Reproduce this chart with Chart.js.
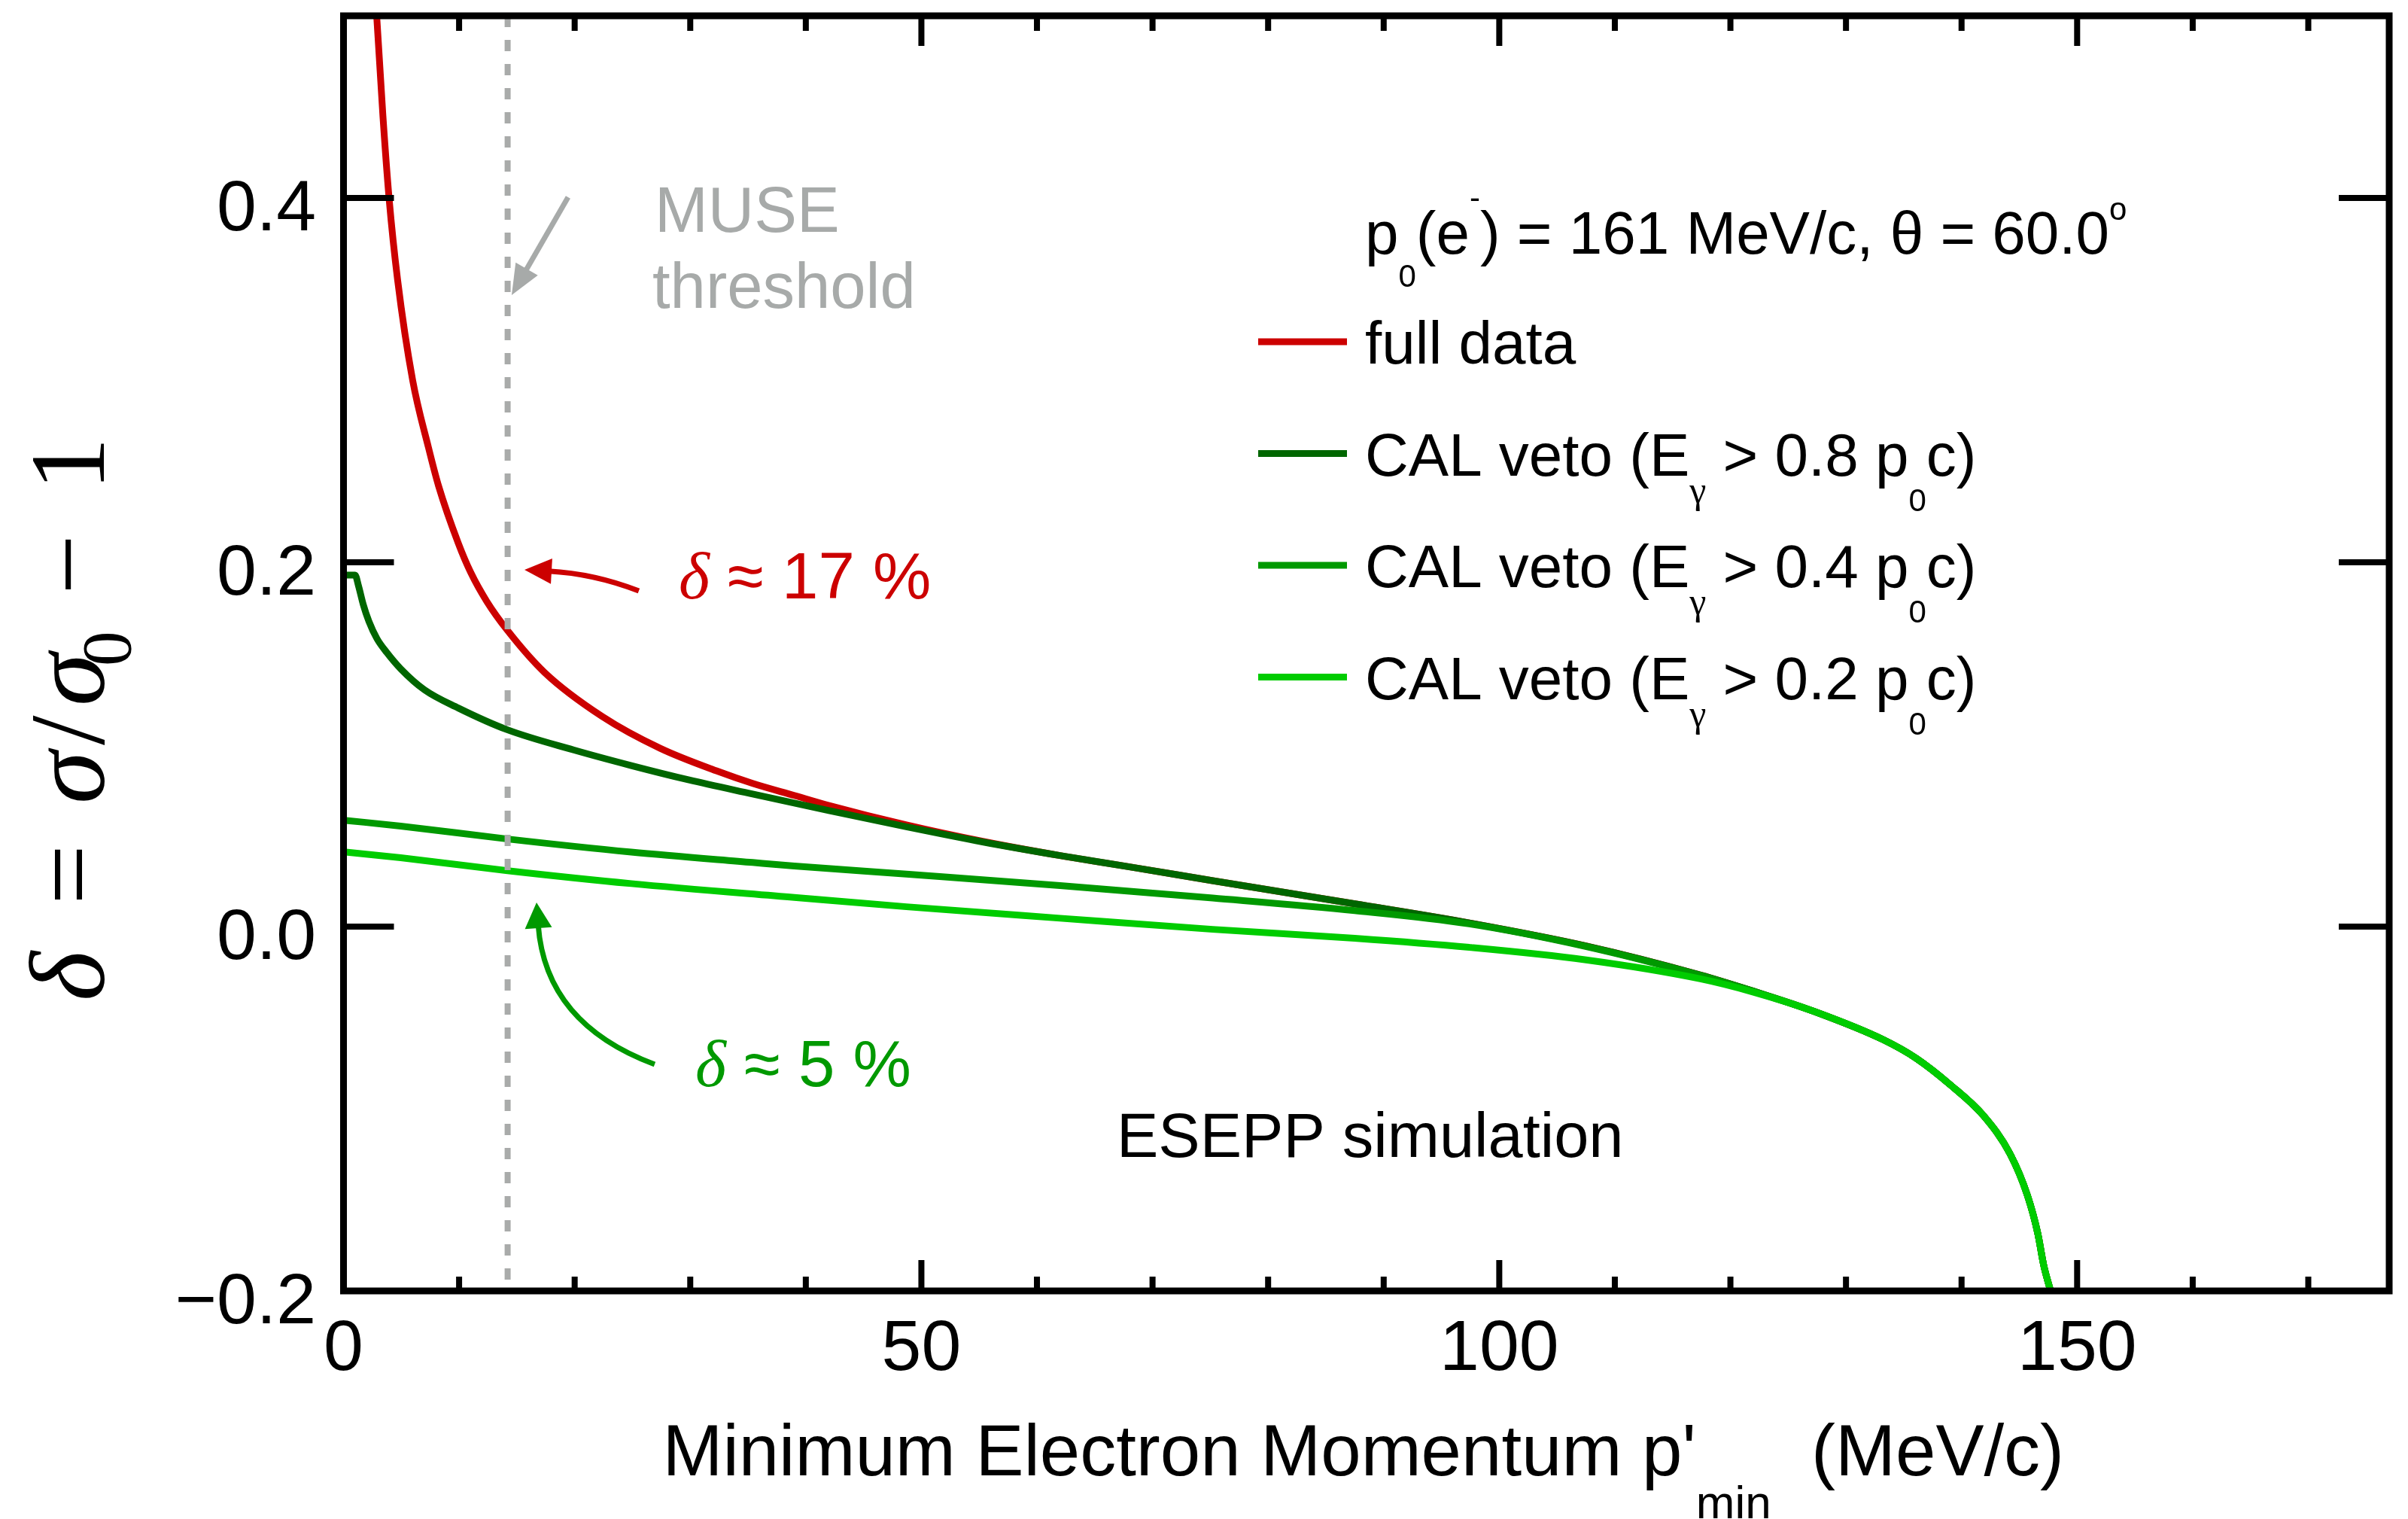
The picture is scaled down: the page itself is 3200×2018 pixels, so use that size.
<!DOCTYPE html>
<html>
<head>
<meta charset="utf-8">
<title>ESEPP simulation - delta vs minimum electron momentum</title>
<script src="https://cdn.jsdelivr.net/npm/chart.js@4.4.1/dist/chart.umd.min.js"></script>
<style>
  html, body { margin: 0; padding: 0; background: #fff; }
  #wrap { width: 3200px; height: 2018px; }
</style>
</head>
<body>
<div id="wrap"><canvas id="chart" width="3200" height="2018"></canvas></div>
<script>
// Fonts
const SANS = '"Liberation Sans", Arial, Helvetica, sans-serif';
const SERIF = '"Liberation Serif", "Times New Roman", serif';

// Series: minimum electron momentum p'_min (MeV/c) and delta = sigma/sigma0 - 1
const fullDataX = [2.5, 2.87, 3.41, 3.94, 4.68, 5.98, 7.35, 8.22, 9.93, 11, 12.4, 14.2, 17.4, 22.4, 27.4, 32.4, 35.4, 39, 42, 48.7, 55.3, 62, 68.6, 75.2, 81.9, 87.5, 97.4, 107.4, 117.4, 122, 127.3, 133.2, 136.1, 139, 141.9, 144.2, 145.7, 146.6, 147.1, 147.7];
const fullDataY = [0.545, 0.5, 0.445, 0.4, 0.355, 0.3, 0.263, 0.242, 0.2105, 0.1945, 0.1785, 0.1625, 0.1395, 0.1153, 0.0979, 0.0852, 0.0786, 0.072, 0.0665, 0.0558, 0.0468, 0.039, 0.0322, 0.0252, 0.0183, 0.0125, 0.002, -0.0105, -0.0266, -0.0355, -0.0467, -0.062, -0.0724, -0.0867, -0.1038, -0.1248, -0.1476, -0.1686, -0.1857, -0.2];

const veto08X = [0.2, 1.0, 1.3, 1.7, 2.2, 2.9, 3.74, 4.95, 7, 9.93, 14.2, 19.9, 24.9, 29.9, 35.4, 42, 48.7, 55.3, 62, 68.6, 75.2, 81.9, 87.5, 97.4, 107.4, 117.4, 122, 127.3, 133.2, 136.1, 139, 141.9, 144.2, 145.7, 146.6, 147.1, 147.7];
const veto08Y = [0.193, 0.193, 0.187, 0.177, 0.1675, 0.158, 0.1505, 0.1415, 0.13, 0.12, 0.108, 0.097, 0.0884, 0.0805, 0.0728, 0.0637, 0.0548, 0.0465, 0.039, 0.0322, 0.0252, 0.0183, 0.0125, 0.002, -0.0105, -0.0266, -0.0355, -0.0467, -0.062, -0.0724, -0.0867, -0.1038, -0.1248, -0.1476, -0.1686, -0.1857, -0.2];

const veto04X = [0.2, 4.95, 14.2, 24.9, 35.4, 39, 48.7, 62, 75.2, 87.5, 97.4, 107.4, 117.4, 122, 127.3, 133.2, 136.1, 139, 141.9, 144.2, 145.7, 146.6, 147.1, 147.7];
const veto04Y = [0.0583, 0.0552, 0.0481, 0.0409, 0.0352, 0.0333, 0.0288, 0.0225, 0.0157, 0.0088, 0.0015, -0.0108, -0.0268, -0.0355, -0.0467, -0.062, -0.0724, -0.0867, -0.1038, -0.1248, -0.1476, -0.1686, -0.1857, -0.2];

const veto02X = [0.2, 4.95, 14.2, 24.9, 39, 48.7, 62, 75.2, 87.5, 97.4, 107.4, 117.4, 122, 127.3, 133.2, 136.1, 139, 141.9, 144.2, 145.7, 146.6, 147.1, 147.7];
const veto02Y = [0.0409, 0.0378, 0.0307, 0.0236, 0.016, 0.0109, 0.0046, -0.0015, -0.0064, -0.0114, -0.0182, -0.0287, -0.036, -0.0467, -0.062, -0.0724, -0.0867, -0.1038, -0.1248, -0.1476, -0.1686, -0.1857, -0.2];

const MUSE_THRESHOLD = 14.2; // MeV/c

// Axes
const X_MIN = 0, X_MAX = 177;
const Y_MIN = -0.2, Y_MAX = 0.5;
const X_MAJOR_TICKS = [0, 50, 100, 150];
const X_TICK_LABELS = ["0", "50", "100", "150"];
const X_MINOR_TICKS = [10, 20, 30, 40, 60, 70, 80, 90, 110, 120, 130, 140, 160, 170];
const Y_TICKS = [0.4, 0.2, 0.0, -0.2];
const Y_TICK_LABELS = ["0.4", "0.2", "0.0", "\u22120.2"];

const SERIES_COLORS = {
  full: "#cc0000",
  veto08: "#006600",
  veto04: "#009900",
  veto02: "#00cc00",
};

function toPoints(xs, ys) {
  return xs.map((x, i) => ({ x: x, y: ys[i] }));
}

// draw a run of text pieces [text, font, dy]
function drawRich(ctx, x, y, parts) {
  let cx = x;
  parts.forEach(([text, font, dy]) => {
    ctx.font = font;
    ctx.fillText(text, cx, y + (dy || 0));
    cx += ctx.measureText(text).width;
  });
  return cx;
}

function richWidth(ctx, parts) {
  let w = 0;
  parts.forEach(([text, font]) => {
    ctx.font = font;
    w += ctx.measureText(text).width;
  });
  return w;
}

// arrow along a quadratic curve, pixel points
function drawArrow(ctx, tail, ctrl, tip, color, width, headLen, headHalf) {
  const dx = tip[0] - ctrl[0], dy = tip[1] - ctrl[1];
  const len = Math.hypot(dx, dy);
  const ux = dx / len, uy = dy / len;
  const bx = tip[0] - ux * headLen, by = tip[1] - uy * headLen;
  ctx.strokeStyle = color;
  ctx.fillStyle = color;
  ctx.lineWidth = width;
  ctx.lineCap = "butt";
  ctx.beginPath();
  ctx.moveTo(tail[0], tail[1]);
  ctx.quadraticCurveTo(ctrl[0], ctrl[1], bx + ux * 4, by + uy * 4);
  ctx.stroke();
  ctx.beginPath();
  ctx.moveTo(tip[0], tip[1]);
  ctx.lineTo(bx - uy * headHalf, by + ux * headHalf);
  ctx.lineTo(bx + uy * headHalf, by - ux * headHalf);
  ctx.closePath();
  ctx.fill();
}

const framePlugin = {
  id: "frameAndText",
  afterDatasetsDraw(chart) {
    const { ctx, chartArea: a } = chart;
    const xs = chart.scales.x, ys = chart.scales.y;
    const px = (v) => xs.getPixelForValue(v);
    const py = (v) => ys.getPixelForValue(v);

    ctx.save();

    // MUSE threshold arrow + text
    drawArrow(ctx, [px(19.43), py(0.4004)], [px(17.0), py(0.3736)], [px(14.55), py(0.3467)], "#a7aaa9", 7, 40, 17);
    ctx.fillStyle = "#a7aaa9";
    ctx.textAlign = "left";
    ctx.textBaseline = "alphabetic";
    ctx.font = `85px ${SANS}`;
    ctx.fillText("MUSE", 870, 308);
    ctx.fillText("threshold", 867, 409);

    // delta ~ 17 %
    drawArrow(ctx, [px(25.55), py(0.1843)], [px(21.71), py(0.1938)], [px(15.66), py(0.1959)], SERIES_COLORS.full, 7, 36, 17);
    ctx.fillStyle = SERIES_COLORS.full;
    drawRich(ctx, 902, 795, [
      ["\u03b4", `italic 88px ${SERIF}`],
      [" \u2248 17 %", `87px ${SANS}`],
    ]);

    // delta ~ 5 %
    drawArrow(ctx, [px(26.92), py(-0.0756)], [px(17.48), py(-0.0533)], [px(16.7), py(0.0132)], SERIES_COLORS.veto04, 7, 34, 18);
    ctx.fillStyle = SERIES_COLORS.veto04;
    drawRich(ctx, 924, 1443, [
      ["\u03b4", `italic 88px ${SERIF}`],
      [" \u2248 5 %", `87px ${SANS}`],
    ]);

    ctx.fillStyle = "#000";
    ctx.font = `83px ${SANS}`;
    ctx.fillText("ESEPP simulation", 1484, 1537);

    // legend
    const LEG = `80px ${SANS}`;
    const SUB = `42px ${SANS}`;
    drawRich(ctx, 1814, 337, [
      ["p", LEG], ["0", SUB, 44], ["(e", LEG], ["-", SUB, -60],
      [") = 161 MeV/c, \u03b8 = 60.0", LEG], ["o", SUB, -45],
    ]);
    const rows = [
      { color: SERIES_COLORS.full, parts: [["full data", LEG]] },
      { color: SERIES_COLORS.veto08, cut: "0.8" },
      { color: SERIES_COLORS.veto04, cut: "0.4" },
      { color: SERIES_COLORS.veto02, cut: "0.2" },
    ];
    rows.forEach((r, i) => {
      const lineY = 454 + i * 148.5;
      ctx.strokeStyle = r.color;
      ctx.lineWidth = 9;
      ctx.lineCap = "butt";
      ctx.beginPath();
      ctx.moveTo(1672, lineY);
      ctx.lineTo(1790, lineY);
      ctx.stroke();
      ctx.fillStyle = "#000";
      const parts = r.parts || [
        ["CAL veto (E", LEG], ["\u03b3", `50px ${SERIF}`, 36],
        [` > ${r.cut} p`, LEG], ["0", SUB, 47], ["c)", LEG],
      ];
      drawRich(ctx, 1814, lineY + 29, parts);
    });

    // frame
    ctx.strokeStyle = "#000";
    ctx.lineWidth = 9;
    ctx.lineCap = "butt";
    ctx.strokeRect(a.left, a.top, a.right - a.left, a.bottom - a.top);

    // ticks, pointing inward
    ctx.lineWidth = 8;
    ctx.beginPath();
    X_MAJOR_TICKS.forEach((v) => {
      const x = px(v);
      ctx.moveTo(x, a.bottom); ctx.lineTo(x, a.bottom - 41);
      ctx.moveTo(x, a.top); ctx.lineTo(x, a.top + 40);
    });
    X_MINOR_TICKS.forEach((v) => {
      const x = px(v);
      ctx.moveTo(x, a.bottom); ctx.lineTo(x, a.bottom - 19);
      ctx.moveTo(x, a.top); ctx.lineTo(x, a.top + 20);
    });
    Y_TICKS.forEach((v) => {
      const y = py(v);
      ctx.moveTo(a.left, y); ctx.lineTo(a.left + 67, y);
      ctx.moveTo(a.right, y); ctx.lineTo(a.right - 67, y);
    });
    ctx.stroke();

    // tick labels
    ctx.fillStyle = "#000";
    ctx.font = `95px ${SANS}`;
    ctx.textAlign = "center";
    X_MAJOR_TICKS.forEach((v, i) => ctx.fillText(X_TICK_LABELS[i], px(v), 1820));
    ctx.textAlign = "right";
    Y_TICKS.forEach((v, i) => ctx.fillText(Y_TICK_LABELS[i], 420, py(v) + 43));

    // x axis title
    ctx.textAlign = "left";
    const xTitle = [
      ["Minimum Electron Momentum p'", `96px ${SANS}`],
      ["min", `62px ${SANS}`, 57],
      ["  (MeV/c)", `96px ${SANS}`],
    ];
    const xw = richWidth(ctx, xTitle);
    drawRich(ctx, (a.left + a.right) / 2 - xw / 2 - 4, 1960, xTitle);

    // y axis title (rotated)
    ctx.save();
    ctx.translate(138, 1330);
    ctx.rotate(-Math.PI / 2);
    const yT = [
      [0, "\u03b4", `italic 142px ${SERIF}`, 0],
      [128, "=", `142px ${SERIF}`, 0],
      [262, "\u03c3", `italic 142px ${SERIF}`, 0],
      [340, "/", `142px ${SERIF}`, 0],
      [392, "\u03c3", `italic 142px ${SERIF}`, 0],
      [445, "0", `93px ${SERIF}`, 35],
      [540, "\u2212", `142px ${SERIF}`, 0],
      [678, "1", `142px ${SERIF}`, 0],
    ];
    yT.forEach(([off, t, f, dy]) => {
      ctx.font = f;
      ctx.fillText(t, off, dy);
    });
    ctx.restore();

    ctx.restore();
  },
};

function initChart() {
  const ctx = document.getElementById("chart").getContext("2d");
  const lineDefaults = {
    borderWidth: 9,
    pointRadius: 0,
    fill: false,
    cubicInterpolationMode: "monotone",
  };
  new Chart(ctx, {
    type: "line",
    data: {
      datasets: [
        {
          label: "MUSE threshold",
          data: [{ x: MUSE_THRESHOLD, y: Y_MAX }, { x: MUSE_THRESHOLD, y: Y_MIN }],
          borderColor: "#a9abaa",
          borderWidth: 8,
          borderDash: [15, 17],
          pointRadius: 0,
          order: 0,
        },
        { ...lineDefaults, label: "CAL veto (E\u03b3 > 0.2 p0c)", data: toPoints(veto02X, veto02Y), borderColor: SERIES_COLORS.veto02, order: 1 },
        { ...lineDefaults, label: "CAL veto (E\u03b3 > 0.4 p0c)", data: toPoints(veto04X, veto04Y), borderColor: SERIES_COLORS.veto04, order: 2 },
        { ...lineDefaults, label: "CAL veto (E\u03b3 > 0.8 p0c)", data: toPoints(veto08X, veto08Y), borderColor: SERIES_COLORS.veto08, order: 3 },
        { ...lineDefaults, label: "full data", data: toPoints(fullDataX, fullDataY), borderColor: SERIES_COLORS.full, order: 4 },
      ],
    },
    options: {
      responsive: false,
      animation: false,
      devicePixelRatio: 1,
      layout: { padding: { left: 456.5, top: 21, right: 25, bottom: 303 } },
      plugins: { legend: { display: false }, tooltip: { enabled: false } },
      scales: {
        x: { type: "linear", min: X_MIN, max: X_MAX, display: false },
        y: { type: "linear", min: Y_MIN, max: Y_MAX, display: false },
      },
    },
    plugins: [framePlugin],
  });
}

document.addEventListener("DOMContentLoaded", initChart);
</script>
</body>
</html>
